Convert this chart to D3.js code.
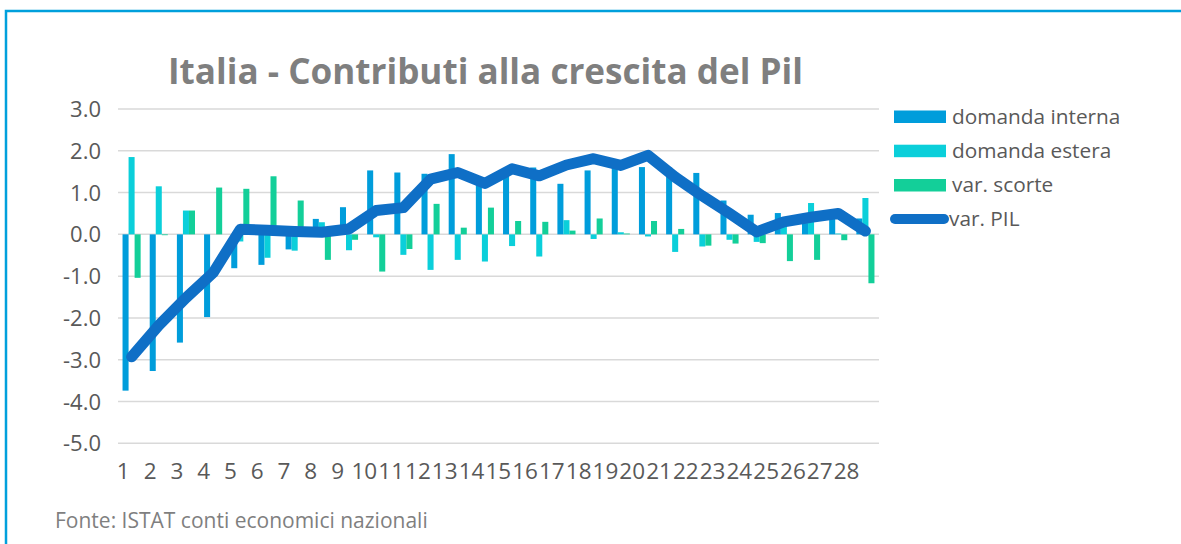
<!DOCTYPE html>
<html>
<head>
<meta charset="utf-8">
<script src="https://cdnjs.cloudflare.com/ajax/libs/d3/7.8.5/d3.min.js"></script>
<style>
  body { margin: 0; background: #fff; }
  text { font-family: "Open Sans", sans-serif; }
</style>
</head>
<body>
<div class="chart"></div>
<script>
// Data
const categories = d3.range(1, 29).map(String);
const domandaInterna = [-3.74, -3.27, -2.59, -1.98, -0.81, -0.73, -0.36, 0.37, 0.65, 1.53,
    1.48, 1.45, 1.92, 1.23, 1.50, 1.60, 1.21, 1.53, 1.60, 1.61,
    1.60, 1.47, 0.81, 0.47, 0.51, 0.27, 0.55, 0.38];
const domandaEstera = [1.85, 1.15, 0.57, 0.00, -0.17, -0.56, -0.39, 0.29, -0.38, -0.07,
    -0.49, -0.85, -0.61, -0.65, -0.28, -0.53, 0.34, -0.11, 0.05, -0.05,
    -0.42, -0.29, -0.13, -0.18, 0.40, 0.75, 0.02, 0.87];
const varScorte = [-1.04, -0.02, 0.57, 1.12, 1.09, 1.39, 0.81, -0.61, -0.13, -0.89,
    -0.35, 0.73, 0.16, 0.64, 0.32, 0.30, 0.09, 0.38, 0.02, 0.32,
    0.13, -0.27, -0.22, -0.21, -0.64, -0.61, -0.14, -1.17];
const varPil = [-2.93, -2.18, -1.52, -0.92, 0.12, 0.10, 0.07, 0.05, 0.13, 0.57,
    0.64, 1.32, 1.48, 1.22, 1.57, 1.40, 1.66, 1.81, 1.65, 1.89,
    1.37, 0.92, 0.50, 0.06, 0.30, 0.41, 0.50, 0.08];
const yTicks = [-5, -4, -3, -2, -1, 0, 1, 2, 3];

const barSeries = [
    { name: "domanda interna", values: domandaInterna, color: "#009ddb" },
    { name: "domanda estera", values: domandaEstera, color: "#0bcfda" },
    { name: "var. scorte", values: varScorte, color: "#13cf99" }
];
const lineColor = "#0f6fc6";

const W = 1181, H = 544;
const svg = d3.select(".chart").append("svg")
    .attr("width", W)
    .attr("height", H);

svg.append("rect").attr("width", W).attr("height", H).attr("fill", "#fff");

// Frame
svg.append("path")
    .attr("d", `M6,${H + 10} V11 H${W + 10}`)
    .attr("fill", "none")
    .attr("stroke", "#00a0dc")
    .attr("stroke-width", 2.5);

// Title
svg.append("text")
    .attr("x", 168)
    .attr("y", 84)
    .attr("textLength", 635)
    .attr("lengthAdjust", "spacingAndGlyphs")
    .style("font-size", "36px")
    .style("font-weight", "bold")
    .style("fill", "#7f7f7f")
    .text("Italia - Contributi alla crescita del Pil");

// Scales
const x = d3.scaleBand().domain(categories).range([118, 879]).padding(0);
const xInner = d3.scaleBand()
    .domain(barSeries.map(s => s.name))
    .range([x.bandwidth() * 0.167, x.bandwidth() * 0.833]);
const xLabel = d3.scalePoint().domain(categories).range([123.3, 846.5]);
const y = d3.scaleLinear().domain([-5, 3]).range([443.3, 109]);

// Gridlines
svg.append("g")
    .selectAll("line")
    .data(yTicks)
    .join("line")
    .attr("x1", 118)
    .attr("x2", 879)
    .attr("y1", d => y(d))
    .attr("y2", d => y(d))
    .attr("stroke", "#d9d9d9")
    .attr("stroke-width", 1.5);

// Y axis labels (plain hyphen for negatives, as in the original)
svg.append("g")
    .selectAll("text")
    .data(yTicks)
    .join("text")
    .attr("x", 101)
    .attr("y", d => y(d) + 8)
    .attr("text-anchor", "end")
    .style("font-size", "22px")
    .style("fill", "#595959")
    .text(d => d.toFixed(1));

// X axis labels
svg.append("g")
    .selectAll("text")
    .data(categories)
    .join("text")
    .attr("x", d => xLabel(d))
    .attr("y", 479)
    .attr("text-anchor", "middle")
    .style("font-size", "22.5px")
    .style("fill", "#595959")
    .text(d => d);

// Bars
barSeries.forEach(s => {
    svg.append("g")
        .selectAll("rect")
        .data(s.values)
        .join("rect")
        .attr("x", (d, i) => x(categories[i]) + xInner(s.name))
        .attr("width", xInner.bandwidth())
        .attr("y", d => y(Math.max(0, d)))
        .attr("height", d => Math.abs(y(d) - y(0)))
        .attr("fill", s.color);
});

// PIL line
const line = d3.line()
    .x((d, i) => x(categories[i]) + x.bandwidth() / 2)
    .y(d => y(d));

svg.append("path")
    .datum(varPil)
    .attr("d", line)
    .attr("fill", "none")
    .attr("stroke", lineColor)
    .attr("stroke-width", 11)
    .attr("stroke-linecap", "round")
    .attr("stroke-linejoin", "round");

// Legend
const legendY = [116.5, 150.7, 185, 219];
const legend = svg.append("g");
barSeries.forEach((s, i) => {
    legend.append("rect")
        .attr("x", 894)
        .attr("y", legendY[i] - 6)
        .attr("width", 52)
        .attr("height", 12.5)
        .attr("fill", s.color);
    legend.append("text")
        .attr("x", 952)
        .attr("y", legendY[i] + 7)
        .style("font-size", "20.8px")
        .style("fill", "#595959")
        .text(s.name);
});
legend.append("line")
    .attr("x1", 895)
    .attr("x2", 944)
    .attr("y1", legendY[3])
    .attr("y2", legendY[3])
    .attr("stroke", lineColor)
    .attr("stroke-width", 10)
    .attr("stroke-linecap", "round");
legend.append("text")
    .attr("x", 949)
    .attr("y", legendY[3] + 7)
    .style("font-size", "20.8px")
    .style("fill", "#595959")
    .text("var. PIL");

// Source
svg.append("text")
    .attr("x", 55)
    .attr("y", 528)
    .style("font-size", "21px")
    .style("fill", "#7f7f7f")
    .text("Fonte: ISTAT conti economici nazionali");
</script>
</body>
</html>
